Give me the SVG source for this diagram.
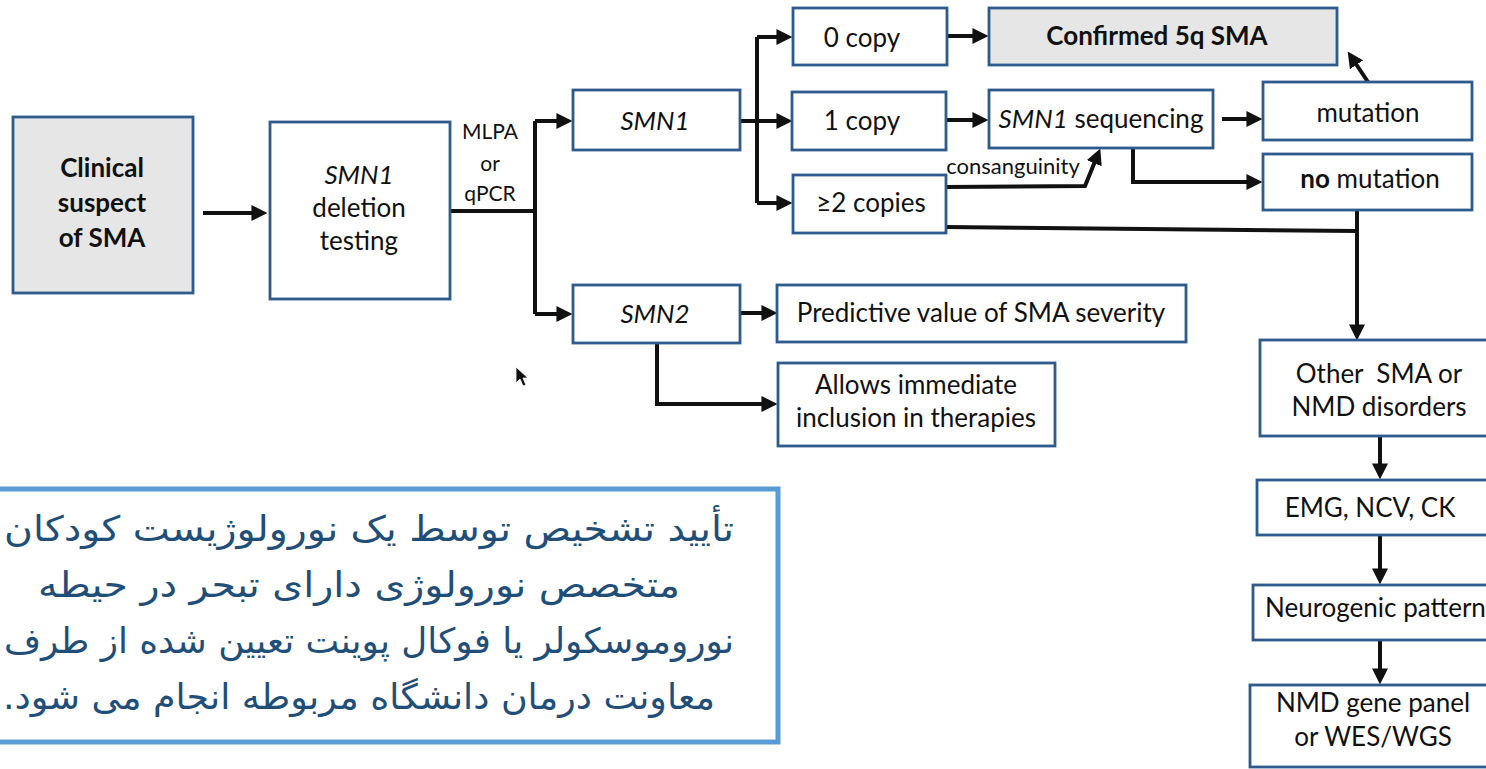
<svg xmlns="http://www.w3.org/2000/svg" width="1486" height="769" viewBox="0 0 1486 769">
<style>
.box{fill:#fff;stroke:#2f5a8c;stroke-width:2.8}
.gray{fill:#e6e6e6}
.t{font-family:Lato,"Liberation Sans",sans-serif;font-size:26px;fill:#111;text-anchor:middle}
.b{font-weight:bold}
.i{font-style:italic}
.s{font-size:21px}
.s2{font-size:22px}
.c{fill:none;stroke:#111;stroke-width:4;stroke-linejoin:miter}
.a{marker-end:url(#ah)}
.fa{font-family:"DejaVu Sans",sans-serif;font-size:35px;fill:#1f4e79;text-anchor:middle}
</style>
<defs>
<marker id="ah" markerUnits="userSpaceOnUse" markerWidth="16" markerHeight="16" viewBox="0 0 14 14" refX="4" refY="7" orient="auto">
<path d="M0,0 L14,7 L0,14 z" fill="#111"/>
</marker>
</defs>
<rect width="1486" height="769" fill="#fff"/>

<g id="connectors">
<path class="c a" d="M203 213 H256"/>
<path class="c" d="M450 211 H535"/>
<path class="c" d="M535 121 V314"/>
<path class="c a" d="M535 121 H561"/>
<path class="c a" d="M535 314 H561"/>
<path class="c" d="M740 121 H757"/>
<path class="c" d="M757 37 V203"/>
<path class="c a" d="M757 37 H781"/>
<path class="c a" d="M757 121 H781"/>
<path class="c a" d="M757 203 H781"/>
<path class="c a" d="M947 36 H977"/>
<path class="c a" d="M947 120 H977"/>
<path class="c a" d="M1222 119 H1251"/>
<path class="c a" d="M1368 82 L1354 61"/>
<path class="c a" d="M946 187 L1085 186 L1096 159"/>
<path class="c a" d="M1133 148 V182 H1251"/>
<path class="c" d="M946 227 L1357 231"/>
<path class="c a" d="M1357 210 V329"/>
<path class="c a" d="M1380 436 V468"/>
<path class="c a" d="M1380 535 V573"/>
<path class="c a" d="M1380 640 V673"/>
<path class="c a" d="M740 313 H766"/>
<path class="c a" d="M657 343 V404 H766"/>
</g>

<g id="n-clinical">
<rect class="box gray" x="13" y="117" width="180" height="176"/>
<text class="t b" x="102" y="177">Clinical</text>
<text class="t b" x="102" y="212">suspect</text>
<text class="t b" x="102" y="247">of SMA</text>
</g>
<g id="n-deletion">
<rect class="box" x="270" y="122" width="180" height="177"/>
<text class="t" x="359" y="184"><tspan class="i">SMN1</tspan></text>
<text class="t" x="359" y="217">deletion</text>
<text class="t" x="359" y="250">testing</text>
</g>
<g id="l-mlpa">
<text class="t s" x="490" y="139">MLPA</text>
<text class="t s" x="490" y="171">or</text>
<text class="t s" x="490" y="201">qPCR</text>
</g>
<g id="n-smn1">
<rect class="box" x="573" y="90" width="167" height="60"/>
<text class="t i" x="655" y="130">SMN1</text>
</g>
<g id="n-smn2">
<rect class="box" x="573" y="285" width="167" height="58"/>
<text class="t i" x="655" y="323">SMN2</text>
</g>
<g id="n-0copy">
<rect class="box" x="793" y="8" width="154" height="57"/>
<text class="t" x="862" y="47">0 copy</text>
</g>
<g id="n-1copy">
<rect class="box" x="792" y="92" width="154" height="58"/>
<text class="t" x="862" y="130">1 copy</text>
</g>
<g id="n-2copies">
<rect class="box" x="793" y="175" width="153" height="58"/>
<text class="t" x="871" y="212">≥2 copies</text>
</g>
<g id="n-confirmed">
<rect class="box gray" x="989" y="8" width="348" height="57"/>
<text class="t b" x="1157" y="45">Confirmed 5q SMA</text>
</g>
<g id="n-seq">
<rect class="box" x="989" y="90" width="224" height="58"/>
<text class="t" x="1101" y="128"><tspan class="i">SMN1</tspan> sequencing</text>
</g>
<g id="n-mutation">
<rect class="box" x="1263" y="82" width="209" height="58"/>
<text class="t" x="1368" y="122">mutation</text>
</g>
<g id="n-nomutation">
<rect class="box" x="1263" y="154" width="209" height="56"/>
<text class="t" x="1370" y="188"><tspan class="b">no</tspan> mutation</text>
</g>
<g id="l-consanguinity">
<text class="t s2" x="1013" y="174">consanguinity</text>
</g>
<g id="n-predictive">
<rect class="box" x="777" y="285" width="409" height="57"/>
<text class="t" x="981" y="322">Predictive value of SMA severity</text>
</g>
<g id="n-allows">
<rect class="box" x="778" y="363" width="277" height="83"/>
<text class="t" x="916" y="394">Allows immediate</text>
<text class="t" x="916" y="427">inclusion in therapies</text>
</g>
<g id="n-other">
<rect class="box" x="1260" y="340" width="240" height="96"/>
<text class="t" x="1379" y="383" style="white-space:pre">Other  SMA or</text>
<text class="t" x="1379" y="416">NMD disorders</text>
</g>
<g id="n-emg">
<rect class="box" x="1257" y="480" width="240" height="55"/>
<text class="t" x="1370" y="517">EMG, NCV, CK</text>
</g>
<g id="n-neuro">
<rect class="box" x="1253" y="585" width="250" height="55"/>
<text class="t" x="1265" y="617" style="text-anchor:start">Neurogenic pattern</text>
</g>
<g id="n-panel">
<rect class="box" x="1250" y="685" width="250" height="82"/>
<text class="t" x="1373" y="712">NMD gene panel</text>
<text class="t" x="1373" y="746">or WES/WGS</text>
</g>

<path d="M516 367 V383 L520 379 L523 386 L526 385 L523 378 L528 378 Z" fill="#111" stroke="#fff" stroke-width="0.8"/>

<g id="note">
<rect x="-10" y="489" width="788" height="253" fill="#fff" stroke="#5b9bd5" stroke-width="5"/>
<text class="fa" x="369" y="541" direction="rtl" textLength="730" lengthAdjust="spacingAndGlyphs">تأیید تشخیص توسط یک نورولوژیست کودکان</text>
<text class="fa" x="359" y="597" direction="rtl" textLength="642" lengthAdjust="spacingAndGlyphs">متخصص نورولوژی دارای تبحر در حیطه</text>
<text class="fa" x="369" y="653" direction="rtl" textLength="730" lengthAdjust="spacingAndGlyphs">نوروموسکولر یا فوکال پوینت تعیین شده از طرف</text>
<text class="fa" x="359" y="709" direction="rtl" textLength="712" lengthAdjust="spacingAndGlyphs">معاونت درمان دانشگاه مربوطه انجام می شود.</text>
</g>
</svg>
